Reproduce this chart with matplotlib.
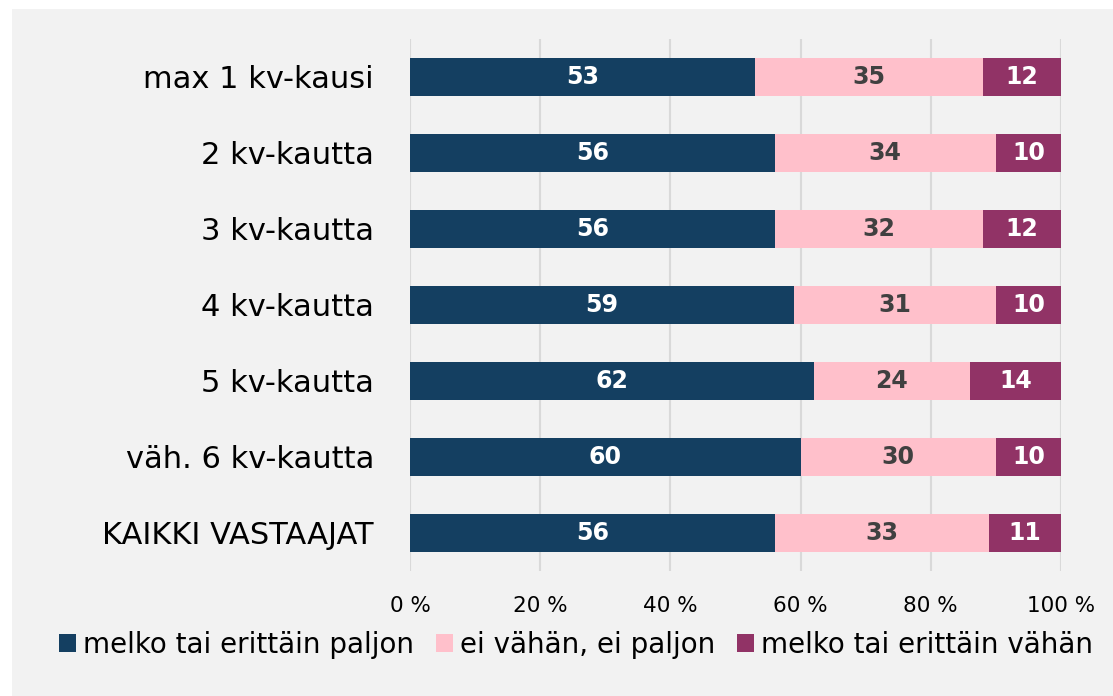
import matplotlib
matplotlib.use("Agg")
import matplotlib.pyplot as plt
from matplotlib.patches import Rectangle, Patch

categories = ["max 1 kv-kausi", "2 kv-kautta", "3 kv-kautta", "4 kv-kautta",
              "5 kv-kautta", "väh. 6 kv-kautta", "KAIKKI VASTAAJAT"]
paljon = [53, 56, 56, 59, 62, 60, 56]
neutral = [35, 34, 32, 31, 24, 30, 33]
vahan = [12, 10, 12, 10, 14, 10, 11]
series_names = ["melko tai erittäin paljon", "ei vähän, ei paljon", "melko tai erittäin vähän"]
xticks = [0, 20, 40, 60, 80, 100]

C = ["#143f61", "#ffc0cb", "#913366"]
TXT = ["white", "#404040", "white"]
plt.rcParams["font.family"] = ["DejaVu Sans"]

fig = plt.figure(figsize=(11.13, 6.96), dpi=100, facecolor="#f2f2f2")
# white strips on top and left edge
fig.patches.append(Rectangle((0, 1 - 9 / 696), 1, 9 / 696, transform=fig.transFigure,
                             facecolor="white", edgecolor="none"))
fig.patches.append(Rectangle((0, 0), 12 / 1113, 1, transform=fig.transFigure,
                             facecolor="white", edgecolor="none"))
ax = fig.add_axes([410 / 1113, 1 - 571 / 696, 651 / 1113, 532 / 696])
ax.set_facecolor("none")

y = list(range(len(categories)))
left = [0] * len(categories)
for vals, col, tc, name in zip([paljon, neutral, vahan], C, TXT, series_names):
    ax.barh(y, vals, left=left, height=0.5, color=col, label=name, zorder=2)
    for yi, l, v in zip(y, left, vals):
        ax.text(l + v / 2, yi, str(v), ha="center", va="center", color=tc,
                fontsize=17, fontweight="bold", zorder=3)
    left = [a + b for a, b in zip(left, vals)]

ax.set_xlim(0, 100)
ax.set_ylim(len(categories) - 0.5, -0.5)
ax.set_yticks(y)
ax.set_yticklabels(categories, fontsize=22)
ax.set_xticks(xticks)
ax.set_xticklabels([f"{t} %" for t in xticks], fontsize=15.5)
ax.tick_params(axis="y", length=0, pad=26)
ax.tick_params(axis="x", length=0, pad=18)
ax.grid(axis="x", color="#d9d9d9", linewidth=1.5, zorder=1)
for s in ax.spines.values():
    s.set_visible(False)

handles = [Patch(facecolor=c) for c in C]
fig.legend(handles, series_names, loc="center", bbox_to_anchor=(576 / 1113, 1 - 645 / 696),
           ncol=3, frameon=False, fontsize=20, handlelength=0.6, handleheight=0.6,
           handletextpad=0.25, columnspacing=0.8)

fig.savefig("out.png", dpi=100, facecolor=fig.get_facecolor())
